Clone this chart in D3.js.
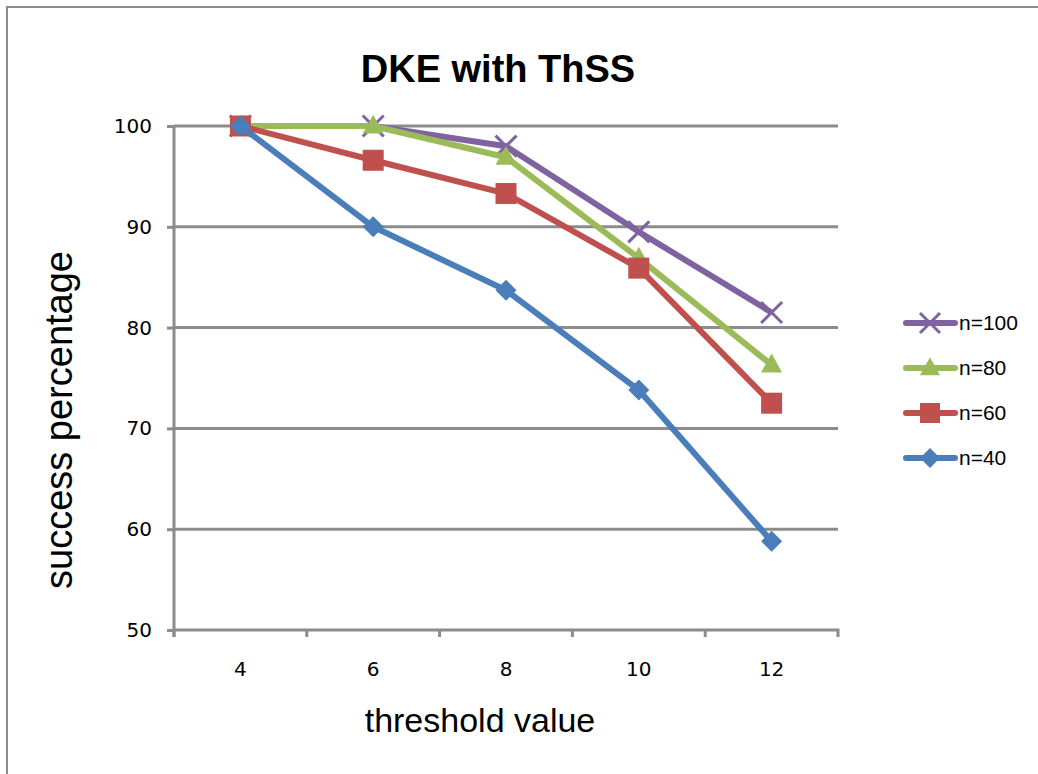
<!DOCTYPE html>
<html lang="en">
    <head>
        <meta charset="utf-8">
        <title>DKE with ThSS</title>
        <script src="https://d3js.org/d3.v7.min.js"></script>
        <style type="text/css">
            body { margin: 0; background: #fff; }
        </style>
    </head>
    <body>
        <svg id="chart" width="1038" height="774"></svg>
        <script>
            //Data
            var thresholds = [4, 6, 8, 10, 12];
            var seriesNames = ['n=100', 'n=80', 'n=60', 'n=40'];
            var n100 = [100, 100, 98.0, 89.5, 81.5];
            var n80 = [100, 100, 96.9, 86.9, 76.3];
            var n60 = [100, 96.6, 93.3, 85.9, 72.5];
            var n40 = [100, 90.0, 83.7, 73.8, 58.8];
            var yTicks = [50, 60, 70, 80, 90, 100];

            var colors = ['#7F63A1', '#9BBB59', '#C0504D', '#4A7EBB'];
            var symbols = ['cross', 'triangle', 'square', 'diamond'];
            var allSeries = [n100, n80, n60, n40];

            var svg = d3.select('#chart');

            //Outer frame
            svg.append('rect')
               .attr('x', 7).attr('y', 7)
               .attr('width', 1100).attr('height', 1000)
               .attr('fill', 'none')
               .attr('stroke', '#8c8c8c')
               .attr('stroke-width', 2);

            var plotLeft = 174, plotRight = 838, plotTop = 126, plotBottom = 630;

            var xScale = d3.scaleBand()
                           .domain(thresholds)
                           .range([plotLeft, plotRight]);

            var yScale = d3.scaleLinear()
                           .domain([50, 100])
                           .range([plotBottom, plotTop]);

            //Grid lines
            svg.append('g')
               .selectAll('line')
               .data(yTicks.filter(function(d) { return d > 50; }))
               .enter()
               .append('line')
               .attr('x1', plotLeft).attr('x2', plotRight)
               .attr('y1', function(d) { return yScale(d); })
               .attr('y2', function(d) { return yScale(d); })
               .attr('stroke', '#8c8c8c')
               .attr('stroke-width', 3);

            //Y axis
            var yAxis = d3.axisLeft(yScale)
                          .tickValues(yTicks)
                          .tickSize(7)
                          .tickPadding(15);
            var gy = svg.append('g')
                        .attr('transform', 'translate(' + plotLeft + ',0)')
                        .call(yAxis);
            gy.select('.domain').attr('stroke', '#8c8c8c').attr('stroke-width', 3)
              .attr('d', 'M0,' + (plotBottom + 7) + 'V' + plotTop);
            gy.selectAll('.tick line').attr('stroke', '#8c8c8c').attr('stroke-width', 3);
            gy.selectAll('.tick text')
              .attr('font-family', 'DejaVu Sans')
              .attr('font-size', 20)
              .attr('fill', '#000');

            //X axis with ticks at category boundaries
            var xAxis = d3.axisBottom(xScale)
                          .tickSize(0)
                          .tickPadding(32);
            var gx = svg.append('g')
                        .attr('transform', 'translate(0,' + plotBottom + ')')
                        .call(xAxis);
            gx.select('.domain').attr('stroke', '#8c8c8c').attr('stroke-width', 3)
              .attr('d', 'M' + plotLeft + ',0H' + plotRight + 'V7');
            gx.selectAll('.tick text')
              .attr('font-family', 'DejaVu Sans')
              .attr('font-size', 20)
              .attr('fill', '#000');
            gx.selectAll('line.bound')
              .data(thresholds)
              .enter()
              .append('line')
              .attr('class', 'bound')
              .attr('x1', function(d) { return xScale(d); })
              .attr('x2', function(d) { return xScale(d); })
              .attr('y1', 0).attr('y2', 7)
              .attr('stroke', '#8c8c8c')
              .attr('stroke-width', 3);

            var xPos = function(i) { return xScale(thresholds[i]) + xScale.bandwidth() / 2; };

            var line = d3.line()
                         .x(function(d, i) { return xPos(i); })
                         .y(function(d) { return yScale(d); });

            //Excel-like markers, r is half the marker width
            function marker(sel, k, r) {
                var type = symbols[k];
                if (type === 'cross') {
                    sel.append('path')
                       .attr('d', 'M' + (-r) + ',' + (-r) + 'L' + r + ',' + r +
                                  'M' + (-r) + ',' + r + 'L' + r + ',' + (-r))
                       .attr('fill', 'none')
                       .attr('stroke', colors[k])
                       .attr('stroke-width', 3);
                } else if (type === 'triangle') {
                    var h = r * 1.8;
                    sel.append('path')
                       .attr('d', 'M0,' + (-h * 0.6) + 'L' + r + ',' + (h * 0.4) + 'L' + (-r) + ',' + (h * 0.4) + 'Z')
                       .attr('fill', colors[k]);
                } else if (type === 'square') {
                    sel.append('rect')
                       .attr('x', -r).attr('y', -r)
                       .attr('width', 2 * r).attr('height', 2 * r)
                       .attr('fill', colors[k]);
                } else {
                    sel.append('path')
                       .attr('d', 'M0,' + (-r) + 'L' + r + ',0L0,' + r + 'L' + (-r) + ',0Z')
                       .attr('fill', colors[k]);
                }
            }

            //Lines and markers, series drawn n=100 first so n=40 sits on top
            allSeries.forEach(function(values, k) {
                var g = svg.append('g');
                g.append('path')
                 .datum(values)
                 .attr('d', line)
                 .attr('fill', 'none')
                 .attr('stroke', colors[k])
                 .attr('stroke-width', 6)
                 .attr('stroke-linejoin', 'round');
                values.forEach(function(v, i) {
                    var m = g.append('g')
                             .attr('transform', 'translate(' + xPos(i) + ',' + yScale(v) + ')');
                    marker(m, k, 10.5);
                });
            });

            //Legend
            var legend = svg.append('g');
            seriesNames.forEach(function(name, k) {
                var ly = 323 + k * 45;
                legend.append('line')
                      .attr('x1', 906).attr('x2', 955)
                      .attr('y1', ly).attr('y2', ly)
                      .attr('stroke', colors[k])
                      .attr('stroke-width', 6)
                      .attr('stroke-linecap', 'round');
                var m = legend.append('g').attr('transform', 'translate(930,' + ly + ')');
                marker(m, k, 10);
                legend.append('text')
                      .attr('x', 959).attr('y', ly)
                      .attr('dy', '0.35em')
                      .attr('font-family', 'Liberation Sans')
                      .attr('font-size', 21)
                      .text(name);
            });

            //Titles
            svg.append('text')
               .attr('x', 498).attr('y', 82)
               .attr('text-anchor', 'middle')
               .attr('font-family', 'Liberation Sans')
               .attr('font-weight', 'bold')
               .attr('font-size', 38)
               .text('DKE with ThSS');

            svg.append('text')
               .attr('transform', 'translate(72,420) rotate(-90)')
               .attr('text-anchor', 'middle')
               .attr('font-family', 'Liberation Sans')
               .attr('font-size', 38)
               .text('success percentage');

            svg.append('text')
               .attr('x', 480).attr('y', 732)
               .attr('text-anchor', 'middle')
               .attr('font-family', 'Liberation Sans')
               .attr('font-size', 34)
               .text('threshold value');
        </script>
    </body>
</html>
